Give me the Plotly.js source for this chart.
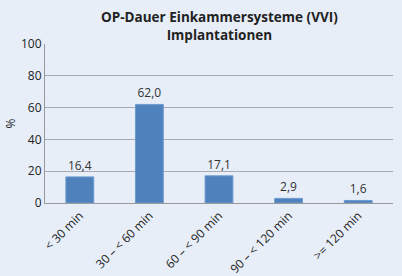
<!DOCTYPE html>
<html><head><meta charset="utf-8">
<script src="https://cdn.plot.ly/plotly-3.0.1.min.js"></script>
<style>html,body{margin:0;padding:0;background:#e7eef8;}#c{width:402px;height:276px;}</style>
</head><body><div id="c"></div>
<script>
const categories = ["< 30 min", "30 – < 60 min", "60 – < 90 min", "90 – < 120 min", ">= 120 min"];
const values = [16.4, 62.0, 17.1, 2.9, 1.6];
const labels = ["16,4", "62,0", "17,1", "2,9", "1,6"];
const tickVals = [0, 20, 40, 60, 80, 100];

Plotly.newPlot('c', [{
  type: 'bar', x: categories, y: values,
  text: labels, textposition: 'outside', cliponaxis: false,
  textfont: {family: 'Open Sans, sans-serif', size: 12, color: '#333'},
  marker: {color: '#4f81bd', line: {color: '#6f9ad0', width: 1}},
  hoverinfo: 'none'
}], {
  width: 402, height: 276,
  margin: {l: 45, r: 9, t: 44, b: 73},
  paper_bgcolor: '#e7eef8', plot_bgcolor: '#e7eef8',
  bargap: 0.6,
  showlegend: false,
  font: {family: 'Open Sans, sans-serif', color: '#222'},
  annotations: [{text: '<b>OP-Dauer Einkammersysteme (VVI)<br>Implantationen</b>', xref: 'paper', yref: 'paper',
    x: 0.5, y: 1, xanchor: 'center', yanchor: 'bottom', yshift: -2, showarrow: false,
    font: {size: 13.5, color: '#222'}}],
  xaxis: {tickangle: -45, tickfont: {size: 12}, showline: true, linecolor: '#999', linewidth: 1, ticks: '', fixedrange: true},
  yaxis: {range: [0, 100], tickvals: tickVals, tickfont: {size: 12}, gridcolor: '#a8abb5', gridwidth: 1,
          showline: true, linecolor: '#999', zeroline: false, ticks: '',
          title: {text: '%', font: {size: 12}, standoff: 2}, fixedrange: true}
}, {staticPlot: true});
</script></body></html>
